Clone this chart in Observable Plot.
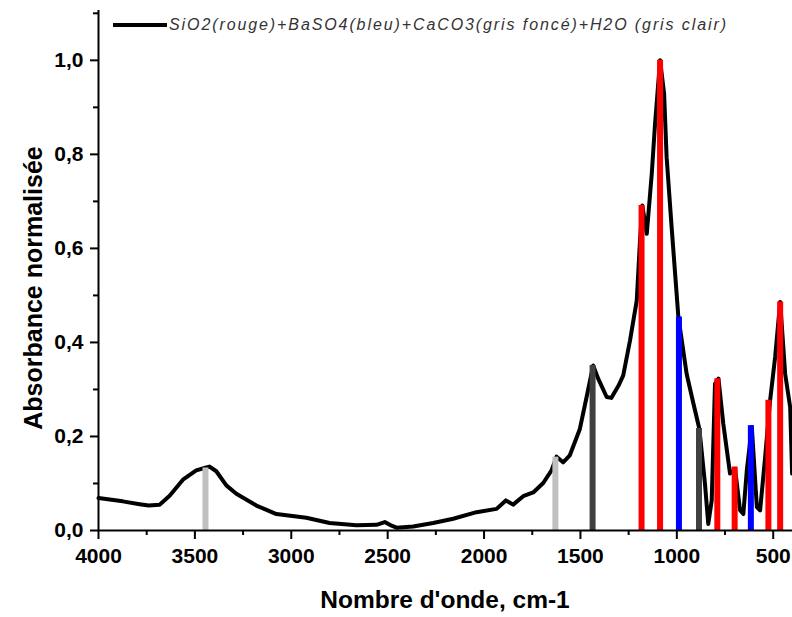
<!DOCTYPE html>
<html>
<head>
<meta charset="utf-8">
<script src="https://cdn.jsdelivr.net/npm/d3@7"></script>
<script src="https://cdn.jsdelivr.net/npm/@observablehq/plot@0.6"></script>
<style>
  html, body { margin: 0; padding: 0; background: #fff; }
  #chart { width: 792px; height: 617px; position: relative; }
</style>
</head>
<body>
<div id="chart"></div>
<script>
// Spectrum (wavenumber cm-1, normalised absorbance)
const wavenumber = [4000, 3874, 3787, 3740, 3683, 3631, 3562, 3493, 3450, 3424, 3389, 3337, 3285, 3181, 3077, 2922, 2801, 2662, 2558, 2515, 2489, 2454, 2368, 2264, 2160, 2039, 1935, 1887, 1849, 1797, 1745, 1693, 1650, 1624, 1590, 1555, 1503, 1468, 1434, 1408, 1364, 1340, 1300, 1278, 1243, 1208, 1191, 1179, 1156, 1130, 1113, 1087, 1066, 1053, 1027, 992, 949, 914, 883, 854, 837, 819, 802, 784, 759, 724, 698, 672, 655, 637, 611, 585, 568, 542, 516, 490, 464, 438, 412, 402];
const absorbance = [0.069, 0.062, 0.056, 0.053, 0.055, 0.074, 0.108, 0.128, 0.133, 0.136, 0.126, 0.096, 0.078, 0.053, 0.035, 0.027, 0.016, 0.011, 0.012, 0.018, 0.012, 0.006, 0.0085, 0.016, 0.025, 0.039, 0.046, 0.064, 0.055, 0.073, 0.081, 0.101, 0.128, 0.157, 0.145, 0.160, 0.216, 0.284, 0.351, 0.323, 0.284, 0.282, 0.310, 0.330, 0.404, 0.489, 0.617, 0.691, 0.631, 0.759, 0.865, 1.0, 0.929, 0.794, 0.645, 0.454, 0.333, 0.270, 0.216, 0.099, 0.014, 0.064, 0.312, 0.323, 0.227, 0.121, 0.131, 0.043, 0.035, 0.128, 0.220, 0.050, 0.043, 0.156, 0.277, 0.369, 0.486, 0.333, 0.262, 0.121];

// Assigned bands
const bandWavenumber = [3445, 1630, 1437, 1183, 1087, 989, 885, 790, 700, 616, 525, 464];
const bandValue = [0.133, 0.156, 0.351, 0.691, 1.0, 0.454, 0.217, 0.323, 0.135, 0.223, 0.277, 0.486];
const bandCompound = ["H2O", "H2O", "CaCO3", "SiO2", "SiO2", "BaSO4", "CaCO3", "SiO2", "SiO2", "BaSO4", "SiO2", "SiO2"];
const compounds = ["SiO2", "BaSO4", "CaCO3", "H2O"];
const compoundColors = ["#ff0000", "#0000ff", "#404040", "#c0c0c0"];

// Ticks
const xMajorTicks = [4000, 3500, 3000, 2500, 2000, 1500, 1000, 500];
const xMinorTicks = [3750, 3250, 2750, 2250, 1750, 1250, 750];
const yMajorTicks = [0, 0.2, 0.4, 0.6, 0.8, 1.0];
const yMinorTicks = [0.1, 0.3, 0.5, 0.7, 0.9, 1.1];

const legendText = "SiO2(rouge)+BaSO4(bleu)+CaCO3(gris foncé)+H2O (gris clair)";
const xTitle = "Nombre d'onde, cm-1";
const yTitle = "Absorbance normalisée";

const xDomain = [4000, 400];
const yDomain = [0, 1.106];

const spectrum = wavenumber.map((w, i) => ({w, a: absorbance[i]}));
const bands = bandWavenumber.map((w, i) => ({w, a: bandValue[i], c: bandCompound[i]}));
const fmt = d => d.toFixed(1).replace(".", ",");

const svg = Plot.plot({
  width: 792,
  height: 617,
  marginLeft: 98,
  marginRight: 0,
  marginTop: 10,
  marginBottom: 87,
  style: {fontFamily: "'Liberation Sans', Arial, sans-serif", fontSize: "21px", fontWeight: "bold", color: "#000", background: "#fff", overflow: "visible"},
  x: {domain: xDomain},
  y: {domain: yDomain},
  color: {domain: compounds, range: compoundColors},
  marks: [
    Plot.line(spectrum, {x: "w", y: "a", stroke: "#000", strokeWidth: 4, strokeLinejoin: "round"}),
    Plot.ruleX(bands, {x: "w", y1: 0, y2: "a", stroke: "c", strokeWidth: 6}),
    Plot.ruleX([xDomain[0]], {stroke: "#000", strokeWidth: 2}),
    Plot.ruleY([0], {stroke: "#000", strokeWidth: 2}),
    Plot.axisX({ticks: xMajorTicks, tickSize: 9, tickPadding: 9, tickFormat: d => String(d), strokeWidth: 2, label: null, fontSize: 21, fontWeight: "bold"}),
    Plot.axisX({ticks: xMinorTicks, tickSize: 5, tickFormat: () => "", strokeWidth: 2, label: null}),
    Plot.axisY({ticks: yMajorTicks, tickSize: 8, tickPadding: 7, tickFormat: fmt, strokeWidth: 2, label: null, fontSize: 21, fontWeight: "bold"}),
    Plot.axisY({ticks: yMinorTicks, tickSize: 5, tickFormat: () => "", strokeWidth: 2, label: null})
  ]
});

const s = d3.select(svg);
// Axis titles
s.append("text")
  .attr("x", 445).attr("y", 608)
  .attr("text-anchor", "middle")
  .style("font", "bold 24.5px 'Liberation Sans', Arial, sans-serif")
  .attr("fill", "#000")
  .text(xTitle);
s.append("text")
  .attr("transform", "translate(42,288) rotate(-90)")
  .attr("text-anchor", "middle")
  .style("font", "bold 25px 'Liberation Sans', Arial, sans-serif")
  .attr("fill", "#000")
  .text(yTitle);
// Legend
const lg = s.append("g");
lg.append("line").attr("x1", 113).attr("x2", 167).attr("y1", 25).attr("y2", 25)
  .attr("stroke", "#000").attr("stroke-width", 4);
lg.append("text")
  .attr("x", 169).attr("y", 30)
  .attr("text-anchor", "start")
  .style("text-anchor", "start")
  .attr("textLength", 557).attr("lengthAdjust", "spacing")
  .style("font", "italic 16px 'Liberation Sans', Arial, sans-serif")
  .attr("fill", "#333")
  .text(legendText);

document.getElementById("chart").appendChild(svg);
</script>
</body>
</html>
